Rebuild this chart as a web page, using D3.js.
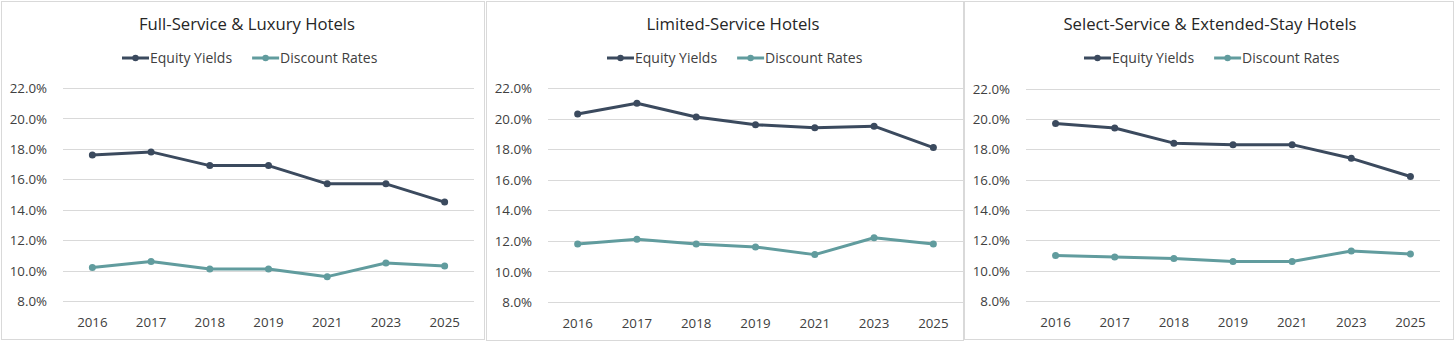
<!DOCTYPE html>
<html>
<head>
<meta charset="utf-8">
<script src="https://cdn.jsdelivr.net/npm/d3@7"></script>
<style>
  html, body { margin: 0; padding: 0; background: #fff; }
  svg { display: block; }
  text { font-family: "Open Sans", "Noto Sans", sans-serif; }
</style>
</head>
<body>
<svg id="chart" width="1456" height="343"></svg>
<script>
// ---------- DATA ----------
const years = ["2016", "2017", "2018", "2019", "2021", "2023", "2025"];
const yTicks = [8, 10, 12, 14, 16, 18, 20, 22];
const seriesNames = ["Equity Yields", "Discount Rates"];
const panelTitles = ["Full-Service & Luxury Hotels", "Limited-Service Hotels", "Select-Service & Extended-Stay Hotels"];

const fullServiceEquity   = [17.6, 17.8, 16.9, 16.9, 15.7, 15.7, 14.5];
const fullServiceDiscount = [10.2, 10.6, 10.1, 10.1, 9.6, 10.5, 10.3];
const limitedEquity       = [20.3, 21.0, 20.1, 19.6, 19.4, 19.5, 18.1];
const limitedDiscount     = [11.8, 12.1, 11.8, 11.6, 11.1, 12.2, 11.8];
const selectEquity        = [19.7, 19.4, 18.4, 18.3, 18.3, 17.4, 16.2];
const selectDiscount      = [11.0, 10.9, 10.8, 10.6, 10.6, 11.3, 11.1];

// ---------- LAYOUT ----------
const colors = ["#3B4A5E", "#619C9E"];
const panels = [
  { title: panelTitles[0], series: [fullServiceEquity, fullServiceDiscount],
    box: [1, 1, 484, 339], plot: [63, 474, 88, 301], titleX: 247, legendX: 122, tickX: 47 },
  { title: panelTitles[1], series: [limitedEquity, limitedDiscount],
    box: [486, 1, 963, 340], plot: [548, 963, 88, 302], titleX: 733, legendX: 607, tickX: 532 },
  { title: panelTitles[2], series: [selectEquity, selectDiscount],
    box: [964, 1, 1453, 339], plot: [1026, 1440, 88.5, 301], titleX: 1210, legendX: 1084, tickX: 1010 }
];

const svg = d3.select("#chart");

panels.forEach(p => {
  const g = svg.append("g");
  const [bx0, by0, bx1, by1] = p.box;
  g.append("rect")
    .attr("x", bx0 + 0.5).attr("y", by0 + 0.5)
    .attr("width", bx1 - bx0).attr("height", by1 - by0)
    .attr("fill", "#fff").attr("stroke", "#D9D9D9").attr("stroke-width", 1);

  const [px0, px1, py0, py1] = p.plot;
  const x = d3.scaleBand().domain(years).range([px0, px1]);
  const y = d3.scaleLinear().domain([8, 22]).range([py1, py0]);

  // gridlines
  g.append("g").selectAll("line").data(yTicks).join("line")
    .attr("x1", px0).attr("x2", px1)
    .attr("y1", d => Math.round(y(d)) + 0.5).attr("y2", d => Math.round(y(d)) + 0.5)
    .attr("stroke", "#D9D9D9").attr("stroke-width", 1);

  // y axis labels
  const yAxis = d3.axisLeft(y).tickValues(yTicks).tickFormat(d => d.toFixed(1) + "%").tickSize(0).tickPadding(0);
  const ya = g.append("g").attr("transform", `translate(${p.tickX},0)`).call(yAxis);
  ya.select(".domain").remove();
  ya.selectAll("text").attr("fill", "#404040").style("font-size", "13.3px").attr("dy", "0.35em");

  // x axis labels
  const xAxis = d3.axisBottom(x).tickSize(0).tickPadding(0);
  const xa = g.append("g").attr("transform", `translate(0,${py1 + 15})`).call(xAxis);
  xa.select(".domain").remove();
  xa.selectAll("text").attr("fill", "#404040").style("font-size", "13.3px").attr("dy", "0.8em");

  // title
  g.append("text").attr("x", p.titleX).attr("y", 30).attr("text-anchor", "middle")
    .attr("fill", "#262626").style("font-size", "16.7px").text(p.title);

  // legend
  let lx = p.legendX;
  seriesNames.forEach((name, i) => {
    const lg = g.append("g");
    lg.append("line").attr("x1", lx).attr("x2", lx + 27).attr("y1", 58).attr("y2", 58)
      .attr("stroke", colors[i]).attr("stroke-width", 3);
    lg.append("circle").attr("cx", lx + 13.5).attr("cy", 58).attr("r", 3.2).attr("fill", colors[i]);
    const t = lg.append("text").attr("x", lx + 28).attr("y", 58).attr("dy", "0.35em")
      .attr("fill", "#404040").style("font-size", "14px").text(name);
    lx = lx + 28 + t.node().getComputedTextLength() + 20;
  });

  // lines
  const line = d3.line().x((d, i) => x(years[i]) + x.bandwidth() / 2).y(d => y(d));
  p.series.forEach((vals, i) => {
    g.append("path").datum(vals).attr("d", line)
      .attr("fill", "none").attr("stroke", colors[i]).attr("stroke-width", 3)
      .attr("stroke-linejoin", "round");
    g.append("g").selectAll("circle").data(vals).join("circle")
      .attr("cx", (d, j) => x(years[j]) + x.bandwidth() / 2)
      .attr("cy", d => y(d)).attr("r", 3.5).attr("fill", colors[i]);
  });
});
</script>
</body>
</html>
